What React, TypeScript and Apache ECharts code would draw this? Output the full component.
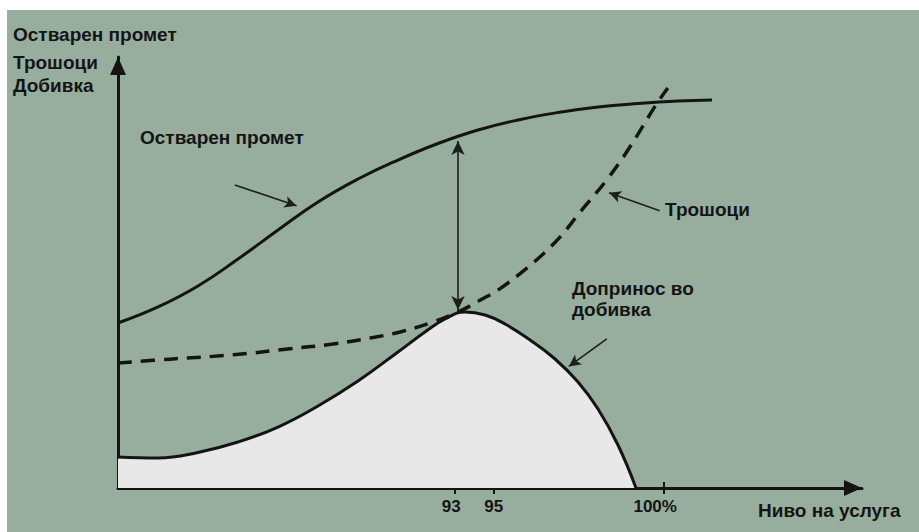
import React, { useEffect, useRef } from 'react';
import * as echarts from 'echarts';

// Abstract concept units: x = service level (0..100), y = amount (0..100)
const revenueX = [0, 5.38, 10.75, 16.13, 21.51, 26.88, 32.26, 37.63, 43.01, 48.39, 53.76, 59.14, 64.52, 69.89, 75.27, 79.84];
const revenueY = [38.28, 42.0, 46.87, 53.13, 59.86, 66.36, 71.69, 76.1, 79.93, 83.06, 85.38, 87.12, 88.4, 89.21, 89.79, 90.02];

const costX = [0, 7.0, 15.5, 23.1, 28.9, 33.9, 37.9, 42.3, 46.0, 48.7, 51.3, 54.0, 56.7, 59.4, 62.1, 65.7, 68.8, 72.2, 73.9];
const costY = [29.0, 29.9, 30.9, 32.3, 33.4, 34.8, 36.2, 38.5, 41.1, 43.6, 46.2, 49.7, 53.6, 58.2, 64.0, 71.5, 79.1, 88.6, 92.8];

const contribX = [0, 5.38, 10.75, 16.13, 21.51, 26.88, 32.26, 37.63, 41.26, 43.95, 46.64, 49.33, 52.02, 55.38, 58.74, 61.83, 64.52, 67.2, 69.62];
const contribY = [7.19, 6.96, 8.24, 10.67, 14.15, 19.03, 24.83, 31.55, 36.19, 39.21, 40.84, 40.14, 38.05, 34.34, 29.93, 24.59, 18.33, 9.98, 0];

const tickValues = [45.3, 50.5, 73.3];
const tickLabelValues = [44.8, 50.5, 72.2];
const tickLabels = ['93', '95', '100%'];

// annotation arrows: [x1, y1, x2, y2]
const pointerArrows = [
  [15.7, 70.3, 24.0, 65.5],
  [72.8, 64.3, 66.0, 68.5],
  [65.7, 34.6, 60.6, 28.2],
];
const gapArrow = [45.7, 80.5, 45.7, 41.3];

const yAxisTitle = ['Остварен промет', 'Трошоци', 'Добивка'];
const revenueLabel = 'Остварен промет';
const costLabel = 'Трошоци';
const contribLabel = ['Допринос во', 'добивка'];
const xAxisTitle = 'Ниво на услуга';

const INK = '#141414';
const BG = '#97ae9e';
const FONT = 'bold 19px "Liberation Sans", Arial, sans-serif';

const zip = (xs: number[], ys: number[]) => xs.map((x, i) => [x, ys[i]]);

function txt(text: string, x: number, y: number) {
  return {
    type: 'text',
    x,
    y,
    silent: true,
    style: {
      text,
      font: FONT,
      fill: INK,
      textAlign: 'left',
      textVerticalAlign: 'middle',
      align: 'left',
      verticalAlign: 'middle',
    },
  };
}

export default function App() {
  const ref = useRef<HTMLDivElement>(null);
  useEffect(() => {
    const chart = echarts.init(ref.current!, null, { renderer: 'svg' });
    const option: any = {
      animation: false,
      backgroundColor: '#ffffff',
      grid: { left: 118, right: 57, top: 57, bottom: 44, containLabel: false, outerBoundsMode: 'none' },
      xAxis: [
        {
          type: 'value',
          min: 0,
          max: 100,
          axisLine: {
            show: true,
            lineStyle: { color: INK, width: 3 },
            symbol: ['none', 'triangle'],
            symbolSize: [16, 18],
            symbolOffset: [0, -9],
          },
          axisTick: { show: true, customValues: tickValues, length: 6, lineStyle: { color: INK, width: 2 } },
          axisLabel: {
            show: true,
            customValues: tickLabelValues,
            margin: 10,
            color: INK,
            fontFamily: '"Liberation Sans", Arial, sans-serif',
            fontWeight: 'bold',
            fontSize: 17,
            formatter: (v: number) => {
              let best = 0;
              tickLabelValues.forEach((t, i) => {
                if (Math.abs(t - v) < Math.abs(tickLabelValues[best] - v)) best = i;
              });
              return tickLabels[best];
            },
          },
          splitLine: { show: false },
        },
        {
          type: 'value',
          min: 0,
          max: 100,
          position: 'bottom',
          axisLine: { show: false },
          axisTick: { show: true, inside: true, customValues: tickValues, length: 6, lineStyle: { color: INK, width: 2 } },
          axisLabel: { show: false },
          splitLine: { show: false },
        },
      ],
      yAxis: {
        type: 'value',
        min: 0,
        max: 100,
        axisLine: {
          show: true,
          lineStyle: { color: INK, width: 3 },
          symbol: ['none', 'triangle'],
          symbolSize: [16, 18],
          symbolOffset: [0, -9],
        },
        axisTick: { show: false },
        axisLabel: { show: false },
        splitLine: { show: false },
      },
      graphic: [
        {
          type: 'rect',
          z: -100,
          silent: true,
          shape: { x: 7, y: 10, width: 912, height: 522 },
          style: { fill: BG },
        },
        txt(yAxisTitle[0], 13, 34),
        txt(yAxisTitle[1], 13, 62),
        txt(yAxisTitle[2], 13, 85),
        txt(revenueLabel, 140, 137),
        txt(costLabel, 665, 209),
        txt(contribLabel[0], 572, 288),
        txt(contribLabel[1], 572, 309),
        txt(xAxisTitle, 758, 510),
      ],
      series: [
        {
          type: 'line',
          name: 'contribution',
          data: zip(contribX, contribY),
          smooth: 0.45,
          showSymbol: false,
          silent: true,
          lineStyle: { color: INK, width: 3 },
          areaStyle: { color: '#e8e8e8', opacity: 1 },
          z: 2,
          markLine: {
            silent: true,
            symbol: ['none', 'arrow'],
            symbolSize: [9, 12],
            label: { show: false },
            lineStyle: { color: '#1e1e1e', width: 1.6, type: 'solid' },
            data: [
              ...pointerArrows.map((a) => [{ coord: [a[0], a[1]] }, { coord: [a[2], a[3]] }]),
              [
                { coord: [gapArrow[0], gapArrow[1]], symbol: 'arrow', symbolSize: [10, 14] },
                { coord: [gapArrow[2], gapArrow[3]], symbol: 'arrow', symbolSize: [10, 14] },
              ],
            ],
          },
        },
        {
          type: 'line',
          name: 'revenue',
          data: zip(revenueX, revenueY),
          smooth: 0.45,
          showSymbol: false,
          silent: true,
          lineStyle: { color: INK, width: 3 },
          z: 3,
        },
        {
          type: 'line',
          name: 'costs',
          data: zip(costX, costY),
          smooth: 0.4,
          showSymbol: false,
          silent: true,
          lineStyle: { color: INK, width: 3.5, type: [14, 9] },
          z: 4,
        },
      ],
    };
    chart.setOption(option);
    return () => chart.dispose();
  }, []);
  return (
    <div
      ref={ref}
      style={{ position: 'fixed', left: 0, top: 0, width: 919, height: 532 }}
    />
  );
}
